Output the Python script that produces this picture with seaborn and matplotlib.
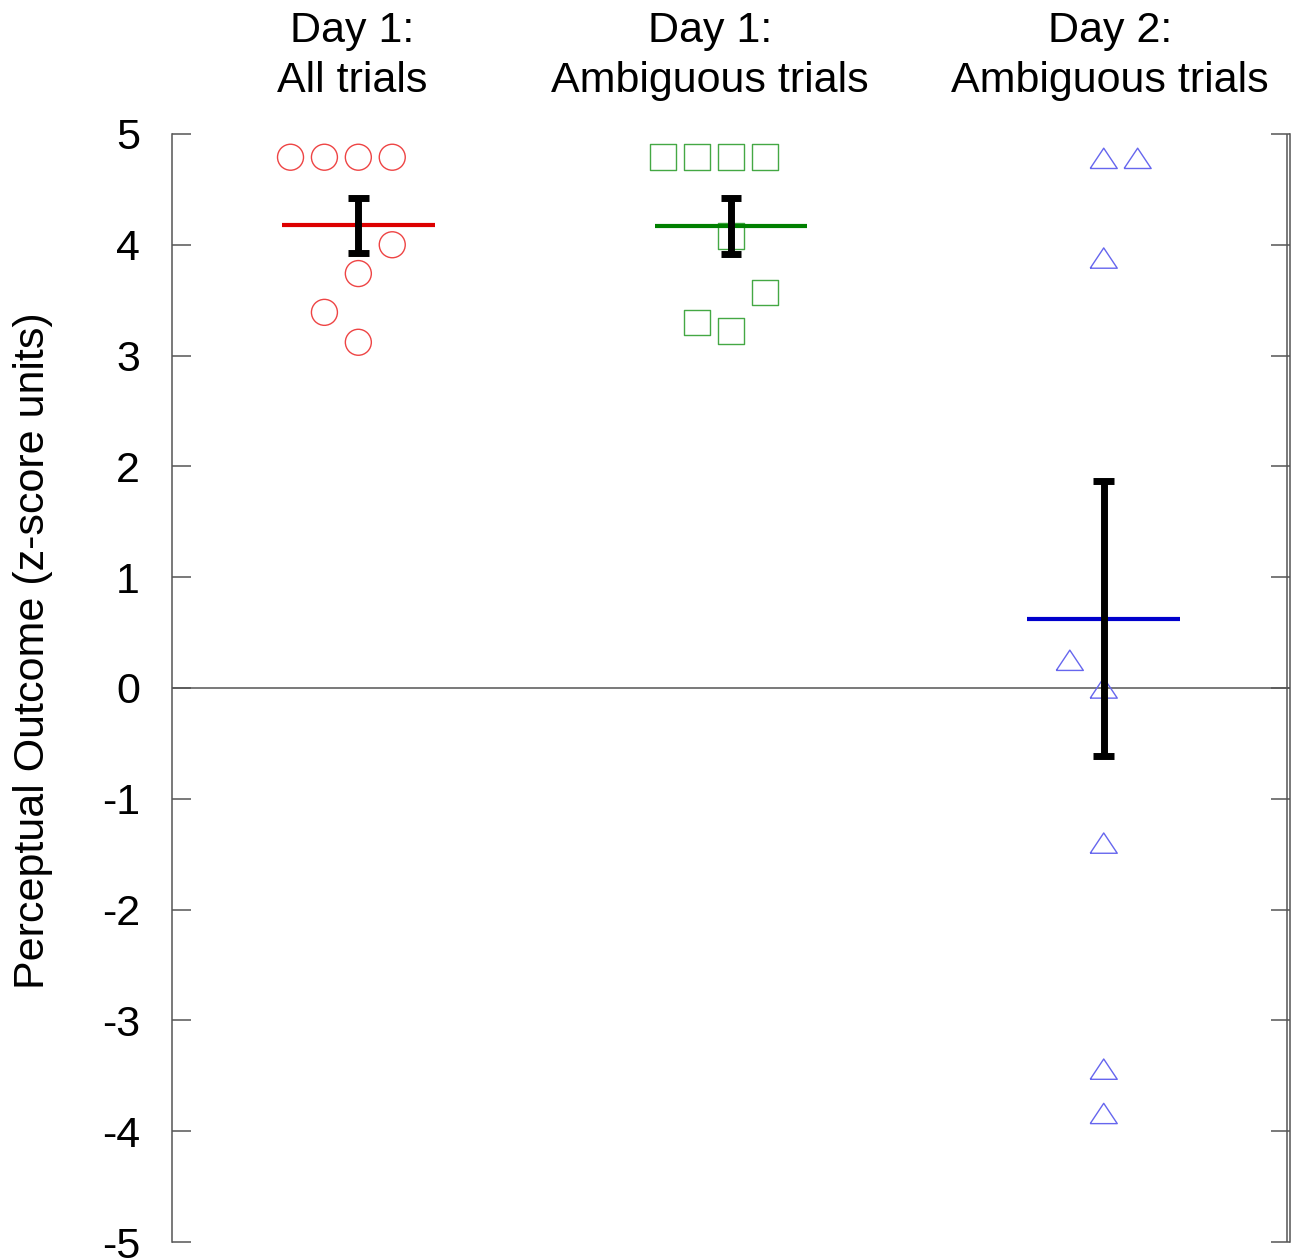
import matplotlib
matplotlib.use('Agg')
import matplotlib.pyplot as plt
import numpy as np
import pandas as pd
import seaborn as sns

# group titles shown above the columns
groups = ['Day 1:\nAll trials', 'Day 1:\nAmbiguous trials', 'Day 2:\nAmbiguous trials']

# values (z-score units)
day1_all = [4.79, 4.79, 4.79, 4.79, 4.00, 3.74, 3.39, 3.12]
day1_amb = [4.79, 4.79, 4.79, 4.79, 4.08, 3.57, 3.30, 3.22]
day2_amb = [4.78, 4.78, 3.88, 0.25, 0.00, -1.40, -3.44, -3.84]

# horizontal slot of each point inside its column
day1_all_slot = [-2, -1, 0, 1, 1, 0, -1, 0]
day1_amb_slot = [-2, -1, 0, 1, 0, 1, -1, 0]
day2_amb_slot = [0, 1, 0, -1, 0, 0, 0, 0]

yticks = [-5, -4, -3, -2, -1, 0, 1, 2, 3, 4, 5]

point_colors = ['#ee4444', '#44a844', '#6666ee']
mean_colors = ['#dd0000', '#008000', '#0000cc']
tri = [(-1, -0.75), (1, -0.75), (0, 0.75), (-1, -0.75)]
markers = ['o', 's', tri]
sizes = [350, 340, 380]
title_shift = [-0.016, -0.056, 0.016]  # small nudges of the column titles

values = [day1_all, day1_amb, day2_amb]
slots = [day1_all_slot, day1_amb_slot, day2_amb_slot]
rows = []
for g, (vals, sl) in enumerate(zip(values, slots)):
    for v, s in zip(vals, sl):
        rows.append({'group': g, 'slot': s, 'value': v})
df = pd.DataFrame(rows)
df['xpos'] = df['group'] + df['slot'] * 0.091

sns.set_style('white')
plt.rcParams['font.family'] = ['Liberation Sans', 'DejaVu Sans']
plt.rcParams['text.color'] = 'black'
plt.rcParams['axes.labelcolor'] = 'black'
plt.rcParams['ytick.labelcolor'] = 'black'

fig = plt.figure(figsize=(13.01, 12.59), dpi=100)
ax = fig.add_axes([0.1322, 0.0135, 0.8594, 0.8801])

ax.axhline(0, color='#555555', linewidth=1.1, zorder=1)

for g in range(3):
    sub = df[df['group'] == g]
    sns.scatterplot(x=sub['xpos'], y=sub['value'], marker=markers[g], s=sizes[g],
                    facecolor='none', edgecolor=point_colors[g], linewidth=1.0,
                    ax=ax, zorder=3)

means = df.groupby('group')['value'].mean()
for g in range(3):
    ax.hlines(means[g], g - 0.205, g + 0.205, color=mean_colors[g], linewidth=3, zorder=4)

sns.pointplot(data=df, x='group', y='value', errorbar='se', capsize=0.055,
              color='black', linestyle='none', marker='',
              err_kws={'linewidth': 5, 'solid_capstyle': 'butt'},
              ax=ax, zorder=5)

ax.set_xlim(-0.5, 2.5)
ax.set_ylim(-5, 5)
ax.set_yticks(yticks)
ax.set_yticklabels([str(t) for t in yticks], fontsize=31)
ax.set_xticks([])
ax.set_xlabel('')
for g, label in enumerate(groups):
    ax.annotate(label, xy=(g + title_shift[g], 1), xycoords=('data', 'axes fraction'),
                xytext=(0, 24), textcoords='offset points', ha='center', va='bottom',
                fontsize=31, linespacing=1.3, color='black')
ax.tick_params(axis='y', direction='in', length=13.7, width=1.1, color='#555555',
               left=True, right=True, pad=23)
ax.set_ylabel('Perceptual Outcome (z-score units)', fontsize=31)
ax.yaxis.set_label_coords(-0.106, 0.534)

for side in ['top', 'bottom']:
    ax.spines[side].set_visible(False)
for side in ['left', 'right']:
    ax.spines[side].set_color('#555555')
    ax.spines[side].set_linewidth(1.1)
ax.axvline(2.5 - 3.5 / 373, color='#555555', linewidth=1.1, zorder=1)

fig.savefig('out.png', dpi=100)
